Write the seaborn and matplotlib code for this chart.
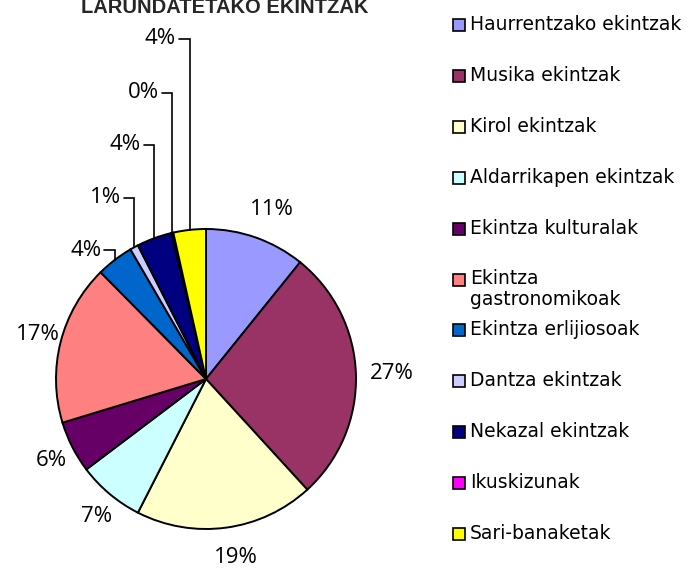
import numpy as np
import matplotlib
matplotlib.use('Agg')
import matplotlib.pyplot as plt
from matplotlib.patches import Rectangle
import seaborn as sns

# data (percent of activities)
categories = ['Haurrentzako ekintzak', 'Musika ekintzak', 'Kirol ekintzak',
              'Aldarrikapen ekintzak', 'Ekintza kulturalak', 'Ekintza\ngastronomikoak',
              'Ekintza erlijiosoak', 'Dantza ekintzak', 'Nekazal ekintzak',
              'Ikuskizunak', 'Sari-banaketak']
values = [10.8, 27.4, 19.3, 7.2, 5.6, 17.3, 4.0, 0.9, 3.8, 0.2, 3.5]
colors = ['#9999FF', '#993366', '#FFFFCC', '#CCFFFF', '#660066', '#FF8080',
          '#0066CC', '#CCCCFF', '#000080', '#FF00FF', '#FFFF00']
title = 'LARUNDATETAKO EKINTZAK'

# slices labelled through elbow leader lines, and the height of each label
small_idx = [6, 7, 8, 9, 10]
small_label_y = [0.86, 1.21, 1.56, 1.91, 2.27]

sns.set_theme(style='white')
plt.rcParams['font.family'] = ['Open Sans', 'DejaVu Sans']

W, H = 697, 570
fig = plt.figure(figsize=(W / 100, H / 100), dpi=100)
fig.patch.set_facecolor('white')

cx, cy, r = 206, 379, 150
ax = fig.add_axes([(cx - r) / W, (H - cy - r) / H, 2 * r / W, 2 * r / H])
wedges, _ = ax.pie(values, colors=colors, startangle=90, counterclock=False,
                   wedgeprops=dict(edgecolor='black', linewidth=1.4))
ax.set_xlim(-1, 1)
ax.set_ylim(-1, 1)
ax.set_aspect('auto')
ax.axis('off')

for i, w in enumerate(wedges):
    mid = np.deg2rad((w.theta1 + w.theta2) / 2)
    txt = '{:.0f}%'.format(values[i])
    if i in small_idx:
        ly = small_label_y[small_idx.index(i)]
        ex, ey = np.cos(mid), np.sin(mid)
        ax.plot([ex, ex, ex - 0.07], [ey, ly, ly], color='black', lw=1.2,
                clip_on=False, solid_joinstyle='miter')
        ax.text(ex - 0.09, ly, txt, ha='right', va='center', fontsize=16,
                color='black', clip_on=False)
    else:
        ax.text(1.2 * np.cos(mid) + 0.04, 1.2 * np.sin(mid), txt,
                ha='center', va='center', fontsize=16, color='black',
                clip_on=False)

# legend, drawn entry by entry so the two-line label keeps the same slot
y0, step = 25, 50.9
for i, (lab, col) in enumerate(zip(categories, colors)):
    yc = y0 + i * step
    fig.patches.append(Rectangle((453 / W, 1 - (yc + 6) / H), 12 / W, 12 / H,
                                 transform=fig.transFigure, facecolor=col,
                                 edgecolor='black', linewidth=1.2))
    fig.text(470 / W, 1 - (yc - 10) / H, lab, ha='left', va='top',
             fontsize=13.5, color='black', linespacing=1.1,
             family=['DejaVu Sans'])

fig.text(225 / W, 1 - 13 / H, title, ha='center', va='baseline',
         fontsize=14.5, fontweight='bold', family=['Liberation Sans', 'DejaVu Sans'])

fig.savefig('out.png', dpi=100, facecolor='white')
